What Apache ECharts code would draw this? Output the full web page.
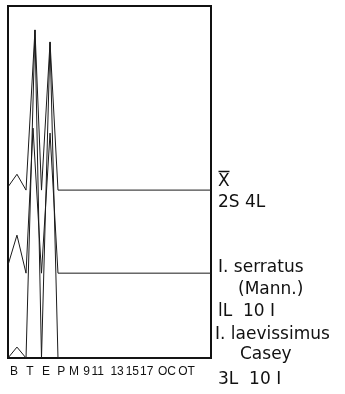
<!DOCTYPE html>
<html>
<head>
<meta charset="utf-8">
<script src="https://cdn.jsdelivr.net/npm/echarts@6/dist/echarts.min.js"></script>
<style>
  html, body { margin: 0; padding: 0; background: #fff; }
  #chart { width: 345px; height: 394px; }
</style>
</head>
<body>
<div id="chart"></div>
<script>
// Body-region labels along the bottom axis and where they sit on the x scale
const regionLabels = ['B', 'T', 'E', 'P', 'M', '9', '11', '13', '15', '17', 'OC', 'OT'];
const regionPos    = [0.71, 2.6, 4.5, 6.3, 7.8, 9.3, 10.6, 12.9, 14.7, 16.4, 18.8, 21.1];

// Vertex positions (x) of each profile
const meanX     = [0, 1.06, 2.13, 3.19, 3.96, 4.97, 5.91, 24];
const serratusX = [0, 1.06, 2.13, 2.96, 3.96, 4.97, 5.91, 24];
const laevX     = [0, 1.06, 2.13, 3.19, 3.96, 4.97, 5.91, 24];

// Profile heights above each profile's own baseline
const meanH     = [0.9, 4.5, 0, 45.5, 0, 42.0, 0, 0];
const serratusH = [2.3, 10.8, 0, 41.2, 0, 39.8, 0, 0];
const laevH     = [0, 3.1, 0, 93.2, 0, 89.8, 0, 0];

// Baselines of the three stacked profiles
const baselines = [47.7, 24.1, 0];

function profile(xs, hs, base) {
  return xs.map((x, i) => [x, base + hs[i]]);
}

const lineStyle = { color: '#1a1a1a', width: 1 };
const txtFont = '"DejaVu Sans", sans-serif';

function txt(text, left, top, size) {
  return {
    type: 'text', left: left, top: top,
    style: { text: text, fill: '#111', font: (size || 17) + 'px ' + txtFont }
  };
}

const chart = echarts.init(document.getElementById('chart'));
chart.setOption({
  animation: false,
  grid: {
    left: 8, top: 6, right: 134, bottom: 36,
    show: true, borderColor: '#111', borderWidth: 2, backgroundColor: 'transparent'
  },
  xAxis: {
    type: 'value', min: 0, max: 24,
    axisLine: { show: false },
    axisTick: { show: false },
    splitLine: { show: false },
    axisLabel: {
      customValues: regionPos,
      formatter: function (v) {
        let best = 0;
        regionPos.forEach((p, i) => { if (Math.abs(p - v) < Math.abs(regionPos[best] - v)) best = i; });
        return regionLabels[best];
      },
      color: '#111', fontSize: 12, fontFamily: '"Liberation Sans", sans-serif', margin: 8
    }
  },
  yAxis: {
    type: 'value', min: 0, max: 100,
    axisLine: { show: false }, axisTick: { show: false },
    axisLabel: { show: false }, splitLine: { show: false }
  },
  series: [
    { type: 'line', data: profile(meanX, meanH, baselines[0]), symbol: 'none', lineStyle: lineStyle, clip: false },
    { type: 'line', data: profile(serratusX, serratusH, baselines[1]), symbol: 'none', lineStyle: lineStyle, clip: false },
    { type: 'line', data: profile(laevX, laevH, baselines[2]), symbol: 'none', lineStyle: lineStyle, clip: false }
  ],
  graphic: [
    // mean symbol: X with a bar over it
    txt('X', 218, 173, 17),
    { type: 'line', shape: { x1: 218.5, y1: 171.5, x2: 229.5, y2: 171.5 }, style: { stroke: '#111', lineWidth: 1.5 } },
    txt('2S 4L', 218, 194, 17),
    txt('I. serratus', 218, 259, 17),
    txt('(Mann.)', 238, 281, 17),
    txt('lL  10 I', 218, 303, 17),
    txt('I. laevissimus', 215, 326, 17),
    txt('Casey', 240, 346, 17),
    txt('3L  10 I', 218, 371, 17)
  ]
});
</script>
</body>
</html>
